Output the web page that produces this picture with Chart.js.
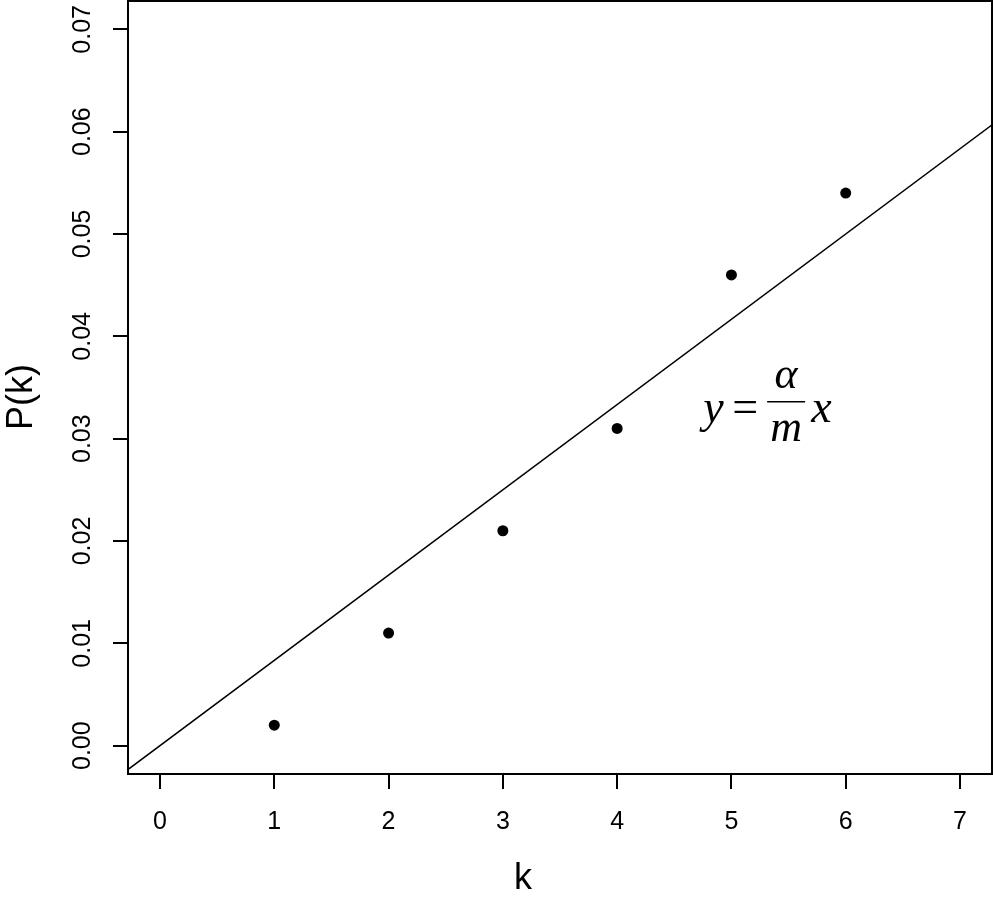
<!DOCTYPE html>
<html>
<head>
<meta charset="utf-8">
<script src="https://cdn.jsdelivr.net/npm/chart.js@4.4.1/dist/chart.umd.min.js"></script>
<style>
  html, body { margin: 0; padding: 0; background: #fff; }
  #wrap { width: 993px; height: 901px; }
</style>
</head>
<body>
<div id="wrap"><canvas id="chart" width="993" height="901"></canvas></div>
<script>
// observed P(k) for each k
const kValues = [1, 2, 3, 4, 5, 6];
const pValues = [0.002, 0.011, 0.021, 0.031, 0.046, 0.054];

// fitted line y = (alpha/m) x, read at two x positions beyond the plot edges
const lineX = [-1, 8];
const lineY = [-0.00833, 0.06667];

// tick labels
const xTicks = [0, 1, 2, 3, 4, 5, 6, 7];
const yTicks = [0, 0.01, 0.02, 0.03, 0.04, 0.05, 0.06, 0.07];

const sansFont = "'Liberation Sans', Arial, Helvetica, sans-serif";
const serifFont = "'Liberation Serif', 'Times New Roman', serif";

// box around the plot, axis titles and the formula
const decorations = {
    id: 'decorations',
    afterDraw(chart) {
        const ctx = chart.ctx;
        const area = chart.chartArea;
        const xs = chart.scales.x;
        const ys = chart.scales.y;
        ctx.save();

        ctx.strokeStyle = '#000';
        ctx.lineWidth = 2;
        ctx.strokeRect(area.left, area.top, area.right - area.left, area.bottom - area.top);

        ctx.fillStyle = '#000';
        ctx.font = '36px ' + sansFont;
        ctx.textAlign = 'center';
        ctx.textBaseline = 'alphabetic';
        ctx.fillText('k', 523, 889);

        ctx.save();
        ctx.translate(32, 397);
        ctx.rotate(-Math.PI / 2);
        ctx.fillText('P(k)', 0, 0);
        ctx.restore();

        // formula anchored in data space
        const ax = xs.getPixelForValue(5.33);
        const ay = ys.getPixelForValue(0.0335);
        ctx.font = 'italic 46px ' + serifFont;
        ctx.textAlign = 'left';
        ctx.fillText('y', ax - 66, ay + 19);
        ctx.fillText('x', ax + 42, ay + 19);
        ctx.font = '46px ' + serifFont;
        ctx.fillText('=', ax - 37, ay + 19);
        ctx.font = 'italic 44px ' + serifFont;
        ctx.textAlign = 'center';
        ctx.fillText('\u03b1', ax + 17, ay - 15);
        ctx.fillText('m', ax + 17, ay + 38);
        ctx.lineWidth = 1.5;
        ctx.beginPath();
        ctx.moveTo(ax - 2, ay - 1);
        ctx.lineTo(ax + 36, ay - 1);
        ctx.stroke();

        ctx.restore();
    }
};

new Chart(document.getElementById('chart'), {
    type: 'scatter',
    data: {
        datasets: [
            {
                label: 'P(k)',
                data: kValues.map((k, i) => ({ x: k, y: pValues[i] })),
                backgroundColor: '#000',
                borderColor: '#000',
                pointRadius: 5.5,
                pointBorderWidth: 0,
                showLine: false
            },
            {
                label: 'fit',
                data: lineX.map((x, i) => ({ x: x, y: lineY[i] })),
                borderColor: '#000',
                borderWidth: 1.5,
                pointRadius: 0,
                showLine: true
            }
        ]
    },
    options: {
        responsive: false,
        animation: false,
        devicePixelRatio: 1,
        layout: { autoPadding: false, padding: { top: 1, right: 1, left: 0, bottom: 0 } },
        plugins: {
            legend: { display: false },
            tooltip: { enabled: false }
        },
        scales: {
            x: {
                type: 'linear',
                min: -0.28,
                max: 7.28,
                afterBuildTicks: scale => { scale.ticks = xTicks.map(v => ({ value: v })); },
                afterFit: scale => {
                    scale.height = 127;
                    scale.paddingLeft = 0;
                    scale.paddingRight = 0;
                },
                border: { display: false },
                grid: { drawOnChartArea: false, drawTicks: true, tickLength: 15, color: '#000', lineWidth: 2 },
                ticks: {
                    autoSkip: false,
                    maxRotation: 0,
                    padding: 18,
                    color: '#000',
                    font: { family: sansFont, size: 25 },
                    callback: v => String(v)
                }
            },
            y: {
                type: 'linear',
                min: -0.00277,
                max: 0.07277,
                afterBuildTicks: scale => { scale.ticks = yTicks.map(v => ({ value: v })); },
                afterFit: scale => {
                    scale.width = 128;
                    scale.paddingTop = 0;
                    scale.paddingBottom = 0;
                },
                border: { display: false },
                grid: { drawOnChartArea: false, drawTicks: true, tickLength: 15, color: '#000', lineWidth: 2 },
                ticks: {
                    autoSkip: false,
                    minRotation: 90,
                    maxRotation: 90,
                    crossAlign: 'center',
                    padding: 6,
                    color: '#000',
                    font: { family: sansFont, size: 25 },
                    callback: v => v.toFixed(2)
                }
            }
        }
    },
    plugins: [decorations]
});
</script>
</body>
</html>
